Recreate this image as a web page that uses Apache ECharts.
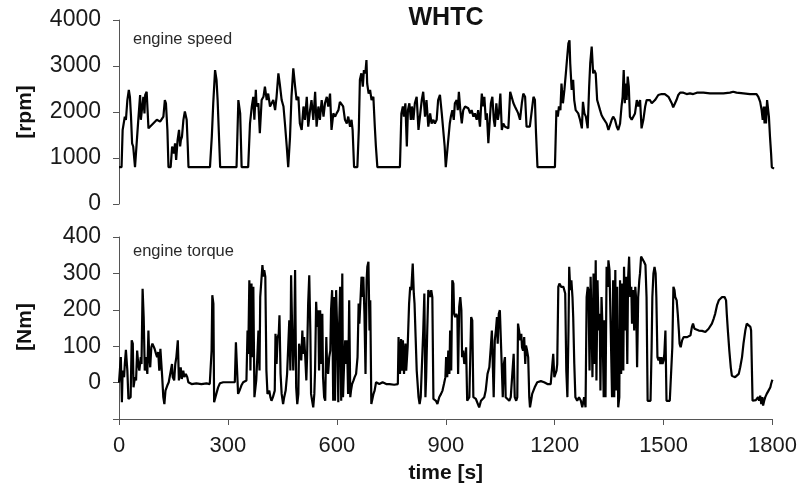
<!DOCTYPE html>
<html>
<head>
<meta charset="utf-8">
<script src="https://cdn.jsdelivr.net/npm/echarts@6/dist/echarts.min.js"></script>
<style>
html,body{margin:0;padding:0;background:#fff;}
#chart{width:800px;height:495px;}
</style>
</head>
<body>
<div id="chart"></div>
<script>
// time [s], engine speed [rpm]
const speedData = [
[0,800],[3,800],[7,800],[10,1609],[16,1900],[19,1830],[23,2260],[27,2480],[30,2330],[33,1900],[36,1320],[39,1250],[44,800],[49,800],[53,1830],[58,2370],[60,1830],[64,2120],[67,2330],[70,1970],[72,2370],[76,2440],[81,1645],[85,1680],[94,1750],[104,1830],[113,1790],[117,1790],[122,1900],[126,2260],[129,2190],[133,1610],[136,800],[142,800],[146,1250],[151,1100],[154,1320],[157,960],[161,1390],[165,1610],[168,1250],[170,1390],[173,1460],[177,1830],[181,2010],[186,1830],[189,1250],[191,800],[250,800],[255,1460],[259,2190],[264,2910],[268,2700],[271,2260],[278,800],[323,800],[328,2260],[333,1970],[337,800],[355,800],[360,1750],[365,2120],[369,2330],[372,1830],[376,2480],[378,2120],[383,2190],[387,1540],[392,2260],[397,2330],[401,2550],[406,2260],[410,2400],[415,2120],[420,2120],[424,2260],[429,2040],[433,2330],[438,2840],[442,2600],
[447,2260],[452,2120],[456,1750],[461,1250],[465,800],[470,1460],[474,2330],[479,2950],[484,2550],[488,2260],[493,2330],[497,1750],[502,1610],[507,2120],[511,1830],[516,2330],[520,1680],[525,2040],[529,2260],[534,1830],[539,2440],[543,1680],[548,2120],[552,1830],[557,2260],[562,1900],[566,2190],[571,2330],[575,2120],[580,2400],[584,1610],[589,1970],[594,1900],[598,1970],[603,2040],[607,2220],[612,2260],[616,2120],[621,1830],[626,1750],[630,1900],[635,1680],[639,1830],[642,1610],[646,800],[655,800],[659,1610],[662,2700],[666,2840],[670,2550],[673,2910],[677,2840],[680,3130],[682,2620],[686,2400],[690,2480],[694,2260],[699,2330],[703,1680],[706,1250],[710,800],
[772,800],[776,1970],[780,2120],[783,1900],[787,2190],[791,1250],[794,2040],[798,2190],[802,1830],[805,2120],[809,1830],[813,2190],[818,2330],[823,1610],[827,1610],[832,2260],[836,2440],[841,1900],[845,2260],[850,1680],[855,1970],[859,1750],[864,1830],[868,1750],[873,1830],[877,2260],[882,2370],[887,1970],[891,1970],[895,1250],[898,800],[903,800],
[909,1750],[912,1900],[916,2040],[920,1830],[923,2190],[928,2260],[931,2040],[934,2440],[938,2040],[942,1750],[946,2040],[951,2120],[955,2150],[960,2080],[965,1970],[969,2040],[974,1900],[978,1970],[983,1830],[987,2040],[992,1680],[997,2400],[1001,2120],[1004,2330],[1008,1830],[1011,1970],[1015,1320],[1019,1830],[1022,2190],[1026,2330],[1030,1830],[1033,1680],[1037,2190],[1041,1830],[1044,1970],[1048,2400],[1052,1610],[1056,1750],[1061,1680],[1065,1645],[1070,1645],[1075,2440],[1079,2330],[1084,2190],[1088,2120],[1093,2040],[1097,1970],[1102,1830],[1107,2190],[1111,2400],[1116,2330],[1120,1680],[1125,1645],[1129,1680],[1134,1645],[1139,2330],[1143,2260],[1146,1540],[1150,800],
[1198,800],[1202,2040],[1206,1900],[1209,2120],[1213,2040],[1216,2620],[1220,2190],[1224,2480],[1228,2840],[1231,3130],[1235,3490],[1238,3560],[1240,3060],[1244,2480],[1248,2700],[1251,2260],[1255,2040],[1259,2040],[1262,1970],[1267,1830],[1272,1645],[1275,2220],[1279,1970],[1283,1900],[1288,1645],[1292,2550],[1295,3060],[1299,3420],[1303,2840],[1306,2910],[1310,2840],[1314,2260],[1317,2260],[1322,2040],[1326,1935],[1331,1860],[1336,1830],[1340,1750],[1345,1610],[1349,1645],[1354,1830],[1358,1900],[1363,1830],[1368,1680],[1372,1610],[1377,1750],[1381,2120],[1384,2330],[1387,2910],[1390,2190],[1392,2620],[1395,2260],[1398,2770],[1401,2550],[1404,1900],[1409,1830],[1413,1830],[1418,1970],[1423,2260],[1427,2120],[1432,2260],[1436,1645],[1441,1830],[1446,2120],[1450,2260],[1455,2300],[1459,2260],[1464,2190],[1468,2190],[1473,2260],[1478,2300],[1482,2370],[1487,2370],[1491,2390],[1496,2370],[1500,2390],[1505,2370],[1510,2330],[1514,2330],[1519,2190],[1523,2100],[1528,2190],[1532,2260],[1537,2370],[1542,2420],[1551,2420],[1560,2390],[1569,2405],[1578,2390],[1588,2420],[1606,2420],[1624,2405],[1642,2405],[1661,2405],[1679,2420],[1688,2440],[1697,2420],[1716,2405],[1734,2390],[1752,2390],[1757,2330],[1762,2220],[1766,2040],[1769,1830],[1772,2120],[1774,1750],[1776,2120],[1778,1750],[1781,2260],[1784,2260],[1786,1900],[1789,1460],[1792,1100],[1794,800],[1800,770]
];

// time [s], engine torque [Nm]
const torqueData = [
[0,0],[3,-4],[5,70],[8,-54],[10,33],[14,15],[16,51],[19,90],[23,33],[26,-45],[28,-40],[32,-40],[35,116],[38,107],[40,-13],[44,15],[47,6],[50,88],[53,51],[56,33],[60,70],[62,51],[65,258],[68,180],[71,33],[74,70],[78,24],[81,143],[83,79],[86,42],[89,97],[92,107],[94,107],[98,93],[102,79],[105,70],[108,84],[111,33],[114,93],[116,88],[119,15],[122,-40],[125,-59],[128,-22],[133,-8],[137,1],[142,1],[146,51],[148,15],[152,6],[155,51],[158,70],[162,116],[165,6],[168,24],[170,42],[173,10],[177,33],[180,15],[184,24],[188,15],[191,1],[200,-4],[213,-2],[227,-4],[241,-2],[250,-4],[252,33],[255,88],[257,240],[260,217],[262,-54],[265,-50],[268,-31],[273,-13],[278,-2],[287,1],[305,1],[319,1],[322,111],[325,107],[328,-31],[332,-22],[337,-8],[342,1],[346,-4],[351,6],[354,143],[356,79],[359,281],[362,33],[365,272],[367,70],[370,263],[373,-40],[376,-40],[378,6],[381,70],[384,143],[387,33],[389,235],[392,235],[395,323],[398,291],[400,309],[403,291],[406,33],[409,-31],[411,-31],[414,-22],[417,-40],[420,-50],[424,-40],[429,-22],[431,134],[434,51],[437,125],[440,134],[442,185],
[445,24],[448,-31],[452,-59],[455,-40],[459,-22],[463,24],[466,97],[469,171],[472,33],[474,295],[477,143],[480,33],[483,143],[485,309],[488,-13],[491,-59],[494,-31],[496,107],[499,88],[502,61],[505,143],[507,79],[510,125],[513,70],[516,6],[518,70],[521,217],[524,295],[527,143],[529,-31],[532,-50],[535,-68],[538,-31],[540,33],[543,222],[546,153],[549,199],[551,33],[554,199],[557,51],[560,189],[562,15],[565,-40],[568,-50],[571,125],[573,51],[576,24],[579,70],[582,88],[584,199],[587,254],[590,-50],[593,235],[595,-50],[598,254],[601,143],[604,-54],[606,143],[609,263],[612,-50],[615,300],[617,-40],[620,51],[623,116],[626,51],[628,116],[631,-31],[634,226],[637,-40],[639,-22],[642,-4],[646,6],[649,15],[653,24],[657,70],[660,217],[662,162],[665,226],[668,291],[671,235],[673,291],[676,189],[679,24],[682,281],[684,318],[687,332],[690,143],[692,226],[695,-59],[698,-59],[701,-31],[704,-22],[708,1],[717,-4],[726,1],[736,-4],[745,-4],[758,-6],[768,-4],
[770,125],[774,24],[777,120],[780,33],[782,116],[785,24],[789,107],[791,33],[795,97],[799,217],[802,263],[805,254],[809,327],[812,245],[814,217],[817,125],[820,33],[823,33],[825,-40],[828,-59],[831,-40],[834,-40],[838,143],[841,245],[844,-40],[846,15],[849,143],[852,254],[855,254],[857,235],[860,254],[863,235],[866,-45],[869,-40],[873,-50],[877,-59],[882,-40],[887,-31],[891,-22],[895,-4],
[899,15],[901,70],[904,15],[907,88],[910,24],[912,143],[915,33],[918,281],[921,272],[923,189],[926,180],[929,189],[932,180],[934,24],[937,208],[940,235],[943,199],[945,70],[948,88],[951,51],[954,70],[956,97],[959,-50],[965,-40],[967,-40],[970,180],[973,171],[976,-40],[978,-40],[983,-45],[987,-50],[992,-68],[997,-50],[1001,-54],[1006,-40],[1010,-22],[1015,24],[1020,42],[1024,97],[1027,143],[1030,33],[1032,-40],[1035,116],[1038,143],[1041,180],[1043,107],[1046,189],[1049,199],[1052,199],[1054,51],[1057,-40],[1060,51],[1063,70],[1065,-40],[1070,-45],[1075,-50],[1079,-40],[1084,-45],[1087,79],[1090,-40],[1094,-50],[1097,-40],[1099,162],[1102,143],[1105,116],[1108,134],[1110,97],[1113,88],[1116,125],[1119,51],[1121,102],[1124,88],[1127,70],[1130,-40],[1132,-68],[1135,-50],[1138,-31],[1141,-27],[1145,-13],[1149,-8],[1152,1],[1162,4],[1171,1],[1180,-4],[1189,-4],[1194,-6],
[1196,79],[1199,15],[1202,24],[1205,33],[1207,51],[1210,263],[1213,272],[1216,272],[1218,263],[1221,268],[1224,263],[1227,258],[1229,245],[1232,33],[1235,-40],[1238,143],[1240,318],[1243,254],[1246,281],[1249,235],[1251,180],[1254,51],[1257,-40],[1260,-40],[1262,-50],[1267,-40],[1272,-50],[1276,-68],[1281,-40],[1285,-68],[1288,235],[1291,263],[1293,254],[1296,33],[1299,291],[1302,143],[1304,15],[1307,300],[1310,51],[1313,336],[1315,6],[1318,281],[1321,143],[1324,189],[1326,-22],[1329,235],[1332,143],[1335,-40],[1337,171],[1340,-40],[1343,318],[1346,263],[1348,336],[1351,309],[1354,162],
[1358,-40],[1361,281],[1364,-40],[1367,309],[1369,-22],[1372,263],[1375,-68],[1378,-40],[1380,281],[1383,24],[1386,272],[1389,33],[1391,318],[1394,143],[1397,291],[1400,51],[1402,281],[1405,346],[1408,235],[1411,263],[1413,162],[1416,254],[1419,143],[1422,263],[1424,235],[1427,42],[1430,235],[1433,281],[1435,300],[1438,346],[1441,341],[1446,332],[1450,323],[1453,235],[1456,-50],[1459,-50],[1464,-50],[1467,97],[1469,235],[1472,300],[1475,318],[1478,300],[1480,235],[1483,70],[1486,61],[1489,70],[1491,51],[1494,70],[1497,51],[1500,61],[1502,79],[1505,143],[1508,-50],[1512,-50],[1517,-50],[1522,-50],[1524,97],[1527,263],[1530,254],[1532,235],[1536,226],[1539,189],[1542,143],[1544,107],[1547,97],[1551,116],[1555,125],[1560,120],[1565,125],[1569,120],[1574,130],[1578,153],[1581,162],[1585,148],[1589,143],[1597,143],[1606,142],[1615,139],[1620,134],[1624,148],[1629,153],[1633,162],[1638,176],[1642,189],[1647,212],[1652,226],[1656,231],[1661,235],[1668,235],[1672,226],[1674,189],[1677,143],[1681,88],[1685,42],[1688,19],[1693,15],[1697,15],[1702,19],[1707,24],[1711,42],[1716,70],[1720,107],[1725,143],[1729,162],[1734,162],[1739,153],[1741,143],[1745,-50],[1750,-50],[1754,-48],[1760,-40],[1763,-50],[1766,-36],[1769,-59],[1772,-40],[1774,-63],[1777,-50],[1780,-40],[1784,-31],[1789,-22],[1794,-13],[1796,-4],[1799,6],[1800,8]
];

const timeTicks = {min: 0, max: 1800, interval: 300};
const speedTicks = {min: 0, max: 4000, interval: 1000};
const torqueTicks = {min: -100, max: 400, interval: 100};

const FONT = '"Liberation Sans", Arial, sans-serif';
const axisColor = '#555555';
const labelColor = '#1a1a1a';

const plain = function (v) { return String(v); };

const chart = echarts.init(document.getElementById('chart'), null, {renderer: 'canvas'});

const yCommon = {
  type: 'value',
  axisLine: {show: true, lineStyle: {color: axisColor, width: 1}},
  axisTick: {show: true, inside: false, length: 6, lineStyle: {color: axisColor}},
  splitLine: {show: false},
  axisLabel: {color: labelColor, fontFamily: FONT, fontSize: 23, margin: 18, formatter: plain}
};

chart.setOption({
  animation: false,
  backgroundColor: '#ffffff',
  title: {
    text: 'WHTC',
    left: 446, top: 6, textAlign: 'center', padding: 0,
    textStyle: {fontFamily: FONT, fontWeight: 'bold', fontSize: 25, color: '#111'}
  },
  grid: [
    {left: 119, top: 20, width: 655, height: 184},
    {left: 119, top: 237, width: 655, height: 182}
  ],
  xAxis: [
    {
      type: 'value', gridIndex: 0, min: timeTicks.min, max: timeTicks.max, interval: timeTicks.interval,
      show: false
    },
    {
      type: 'value', gridIndex: 1, min: timeTicks.min, max: timeTicks.max, interval: timeTicks.interval,
      axisLine: {show: true, onZero: false, lineStyle: {color: axisColor, width: 1}},
      axisTick: {show: true, length: 6, lineStyle: {color: axisColor}},
      splitLine: {show: false},
      axisLabel: {color: labelColor, fontFamily: FONT, fontSize: 22, margin: 16, formatter: plain},
      name: 'time [s]', nameLocation: 'middle', nameGap: 44,
      nameTextStyle: {fontFamily: FONT, fontWeight: 'bold', fontSize: 21, color: '#111'}
    }
  ],
  yAxis: [
    Object.assign({}, yCommon, {gridIndex: 0, min: speedTicks.min, max: speedTicks.max, interval: speedTicks.interval}),
    Object.assign({}, yCommon, {
      gridIndex: 1, min: torqueTicks.min, max: torqueTicks.max, interval: torqueTicks.interval,
      axisLabel: Object.assign({}, yCommon.axisLabel, {
        formatter: function (v) { return v < 0 ? '' : String(v); }
      })
    })
  ],
  graphic: [
    {type: 'text', x: 25, y: 112, rotation: Math.PI / 2,
     style: {text: '[rpm]', font: 'bold 21px ' + FONT, fill: '#111', align: 'center', verticalAlign: 'middle'}},
    {type: 'text', x: 25, y: 327, rotation: Math.PI / 2,
     style: {text: '[Nm]', font: 'bold 21px ' + FONT, fill: '#111', align: 'center', verticalAlign: 'middle'}},
    {type: 'text', x: 133, y: 39,
     style: {text: 'engine speed', font: '16.5px ' + FONT, fill: '#2a2a2a', align: 'left', verticalAlign: 'middle'}},
    {type: 'text', x: 133, y: 251,
     style: {text: 'engine torque', font: '16.5px ' + FONT, fill: '#2a2a2a', align: 'left', verticalAlign: 'middle'}}
  ],
  series: [
    {
      type: 'line', xAxisIndex: 0, yAxisIndex: 0, data: speedData,
      showSymbol: false, symbol: 'none', lineStyle: {color: '#000', width: 2.2}, silent: true
    },
    {
      type: 'line', xAxisIndex: 1, yAxisIndex: 1, data: torqueData,
      showSymbol: false, symbol: 'none', lineStyle: {color: '#000', width: 2.2}, silent: true
    }
  ]
});
</script>
</body>
</html>
